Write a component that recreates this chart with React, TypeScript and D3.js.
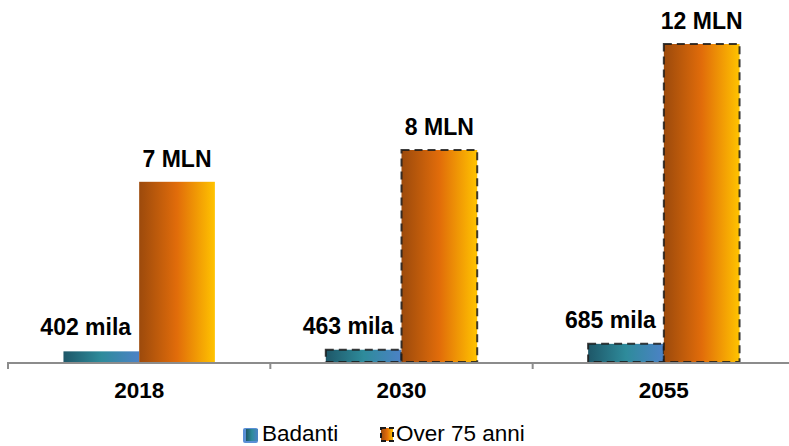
import React from "react";
import * as d3 from "d3";

const categories = ["2018", "2030", "2055"];
const badanti = [0.402, 0.463, 0.685]; // millions
const over75 = [6.8, 8.0, 12.0]; // millions
const badantiLabels = ["402 mila", "463 mila", "685 mila"];
const over75Labels = ["7 MLN", "8 MLN", "12 MLN"];
const dashed = [false, true, true];
const seriesNames = ["Badanti", "Over 75 anni"];

const W = 789;
const H = 446;
const FONT = "'Liberation Sans', Arial, Helvetica, sans-serif";

export default function App() {
  const axisY = 362;
  const x = d3.scaleBand<string>().domain(categories).range([8, 795]).padding(0);
  const y = d3.scaleLinear().domain([0, 13]).range([axisY, axisY - 13 * 26.5]);
  const bw = x.bandwidth() * 0.2886;
  const ticks = [...categories.map((c) => x(c) as number), 795];

  return (
    <svg
      width={W}
      height={H}
      style={{ position: "absolute", left: 0, top: 0, background: "#fff" }}
      fontFamily={FONT}
    >
      <defs>
        <linearGradient id="gB" x1="0" x2="1" y1="0" y2="0">
          <stop offset="0" stopColor="#1e5768" />
          <stop offset="0.5" stopColor="#2e8b9b" />
          <stop offset="1" stopColor="#4c82c6" />
        </linearGradient>
        <linearGradient id="gO" x1="0" x2="1" y1="0" y2="0">
          <stop offset="0" stopColor="#9c4a0c" />
          <stop offset="0.5" stopColor="#e16c0a" />
          <stop offset="1" stopColor="#ffc300" />
        </linearGradient>
      </defs>

      {categories.map((c, i) => {
        const cx = (x(c) as number) + x.bandwidth() / 2;
        const yb = y(badanti[i]);
        const yo = y(over75[i]);
        const strokeProps = dashed[i]
          ? { stroke: "#1a1a1a", strokeOpacity: 0.85, strokeWidth: 2, strokeDasharray: "8,5" }
          : {};
        return (
          <g key={c}>
            <rect x={cx - bw} y={yb} width={bw} height={axisY - yb} fill="url(#gB)" {...strokeProps} />
            <rect x={cx} y={yo} width={bw} height={axisY - yo} fill="url(#gO)" {...strokeProps} />
            <text
              x={cx - 8}
              y={yb - 16}
              textAnchor="end"
              fontSize={23}
              fontWeight="bold"
              fill="#000"
            >
              {badantiLabels[i]}
            </text>
            <text
              x={cx + bw / 2}
              y={yo - 15}
              textAnchor="middle"
              fontSize={23}
              fontWeight="bold"
              fill="#000"
            >
              {over75Labels[i]}
            </text>
            <text x={cx} y={398} textAnchor="middle" fontSize={22.5} fontWeight="bold" fill="#000">
              {c}
            </text>
          </g>
        );
      })}

      <line x1={8} x2={W} y1={axisY + 1} y2={axisY + 1} stroke="#8c8c8c" strokeWidth={2} />
      {ticks.map((t, i) => (
        <line key={i} x1={t} x2={t} y1={axisY} y2={axisY + 7} stroke="#8c8c8c" strokeWidth={2} />
      ))}

      {/* Legend */}
      <g>
        <rect x={243} y={428} width={15} height={15} rx={2} fill="#5b8fd6" />
        <rect x={246} y={429} width={12} height={12} fill="url(#gB)" />
        <text x={262} y={441} fontSize={22.5} fill="#000">
          {seriesNames[0]}
        </text>
        <rect x={381} y={428} width={12} height={13} fill="url(#gO)" stroke="#1a1a1a" strokeWidth={2} strokeDasharray="5,3" />
        <text x={396} y={441} fontSize={22.5} fill="#000">
          {seriesNames[1]}
        </text>
      </g>
    </svg>
  );
}
